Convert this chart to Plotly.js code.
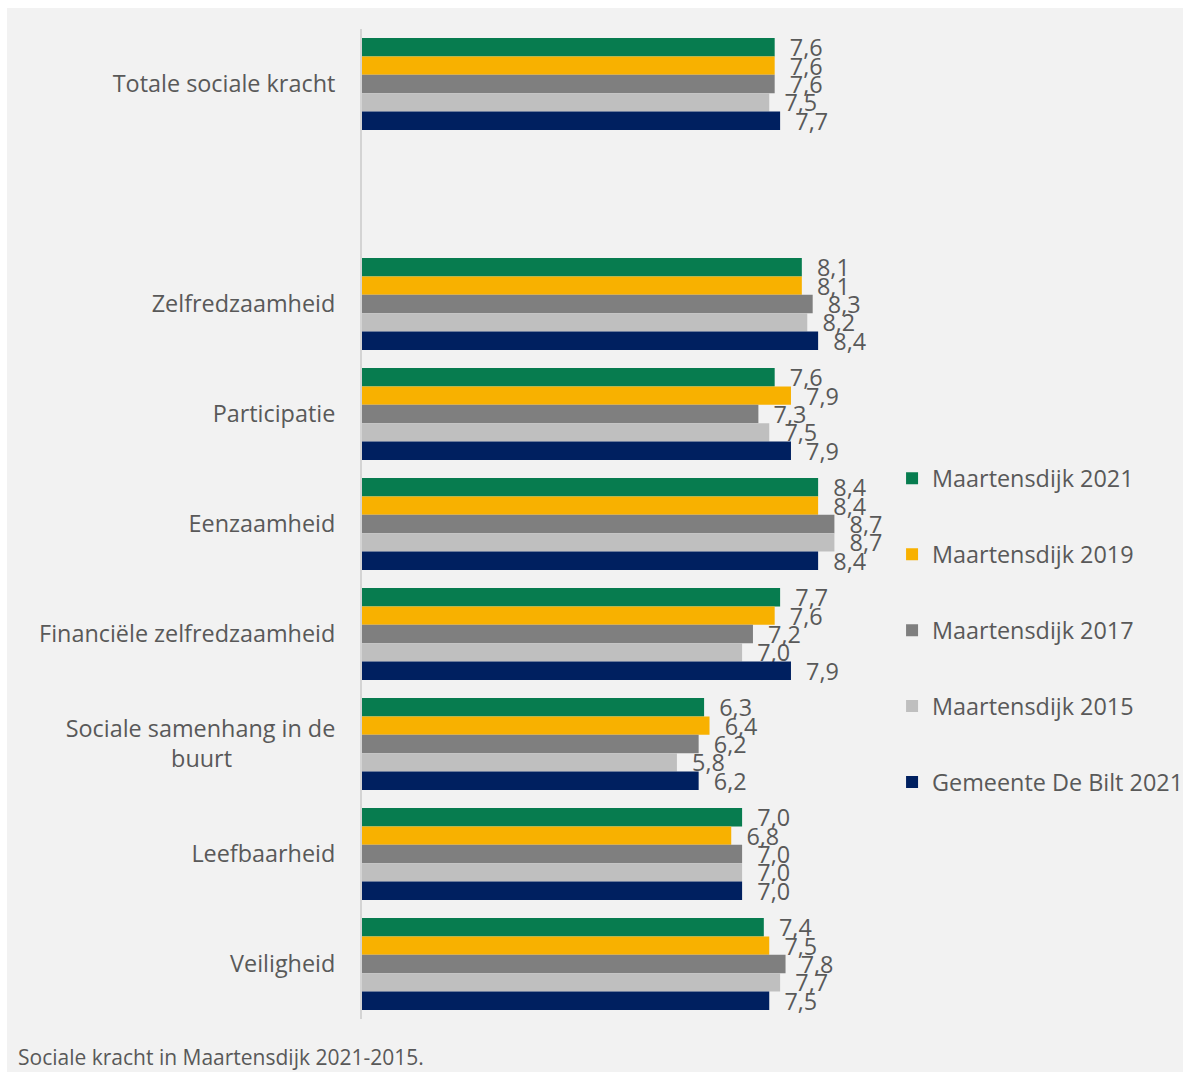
<!DOCTYPE html>
<html>
<head>
<meta charset="utf-8">
<script src="https://cdn.plot.ly/plotly-3.0.1.min.js"></script>
<style>
  html, body { margin: 0; padding: 0; background: #ffffff; width: 1183px; height: 1072px; overflow: hidden; }
  #chart { position: absolute; left: 7px; top: 8px; width: 1176px; height: 1064px; }
</style>
</head>
<body>
<div id="chart"></div>
<script>
// ---- data ----
const categories = [
  "Totale sociale kracht",
  " ",
  "Zelfredzaamheid",
  "Participatie",
  "Eenzaamheid",
  "Financiële zelfredzaamheid",
  "Sociale samenhang in de buurt",
  "Leefbaarheid",
  "Veiligheid"
];
const categoryLabels = [
  "Totale sociale kracht",
  " ",
  "Zelfredzaamheid",
  "Participatie",
  "Eenzaamheid",
  "Financiële zelfredzaamheid",
  "Sociale samenhang in de<br>buurt" + "\u00a0".repeat(17),
  "Leefbaarheid",
  "Veiligheid"
];
const seriesNames = [
  "Maartensdijk 2021",
  "Maartensdijk 2019",
  "Maartensdijk 2017",
  "Maartensdijk 2015",
  "Gemeente De Bilt 2021"
];
const maartensdijk2021 = [7.6, null, 8.1, 7.6, 8.4, 7.7, 6.3, 7.0, 7.4];
const maartensdijk2019 = [7.6, null, 8.1, 7.9, 8.4, 7.6, 6.4, 6.8, 7.5];
const maartensdijk2017 = [7.6, null, 8.3, 7.3, 8.7, 7.2, 6.2, 7.0, 7.8];
const maartensdijk2015 = [7.5, null, 8.2, 7.5, 8.7, 7.0, 5.8, 7.0, 7.7];
const deBilt2021       = [7.7, null, 8.4, 7.9, 8.4, 7.9, 6.2, 7.0, 7.5];
const caption = "Sociale kracht in Maartensdijk 2021-2015.";

// ---- styles ----
const seriesValues = [maartensdijk2021, maartensdijk2019, maartensdijk2017, maartensdijk2015, deBilt2021];
const colors = ["#077c4f", "#f8b100", "#7f7f7f", "#bfbfbf", "#002060"];
const textColor = "#595959";
const fontFamily = "'Open Sans', 'Liberation Sans', sans-serif";
const fs = 23.4;

const traces = seriesValues.map((vals, i) => ({
  type: "bar",
  orientation: "h",
  name: seriesNames[i],
  legendgroup: "g" + i,
  y: categories,
  x: vals,
  marker: { color: colors[i], line: { width: 0 } },
  texttemplate: "\u00a0\u00a0%{x:.1f}",
  textposition: "outside",
  constraintext: "none",
  cliponaxis: false,
  textfont: { family: fontFamily, size: fs, color: textColor },
  hoverinfo: "skip"
}));

const layout = {
  width: 1176,
  height: 1064,
  margin: { l: 355, r: 278, t: 21, b: 53, autoexpand: false },
  paper_bgcolor: "#f2f2f2",
  plot_bgcolor: "#f2f2f2",
  separators: ",.",
  barmode: "group",
  bargap: 0.164,
  bargroupgap: 0,
  font: { family: fontFamily, size: fs, color: textColor },
  xaxis: {
    range: [0, 10],
    showgrid: false,
    zeroline: false,
    showline: false,
    showticklabels: false,
    ticks: ""
  },
  yaxis: {
    type: "category",
    categoryorder: "array",
    categoryarray: categories,
    tickvals: categories,
    ticktext: categoryLabels,
    autorange: "reversed",
    showgrid: false,
    zeroline: false,
    showline: true,
    linecolor: "#d4d4d4",
    linewidth: 2,
    ticks: "",
    ticklabelstandoff: 20,
    tickfont: { family: fontFamily, size: fs, color: textColor }
  },
  showlegend: true,
  legend: {
    xref: "container",
    yref: "container",
    x: 0.7526,
    xanchor: "left",
    y: 0.5784,
    yanchor: "top",
    bgcolor: "rgba(0,0,0,0)",
    traceorder: "grouped",
    tracegroupgap: 42.5,
    font: { family: fontFamily, size: fs, color: textColor }
  },
  annotations: [{
    text: caption,
    xref: "paper", yref: "paper",
    x: (9 - 355) / 543, xanchor: "left",
    y: 0, yanchor: "middle", yshift: -38,
    showarrow: false,
    font: { family: fontFamily, size: 21, color: textColor }
  }]
};

Plotly.newPlot("chart", traces, layout, { staticPlot: true, displayModeBar: false });
</script>
</body>
</html>
